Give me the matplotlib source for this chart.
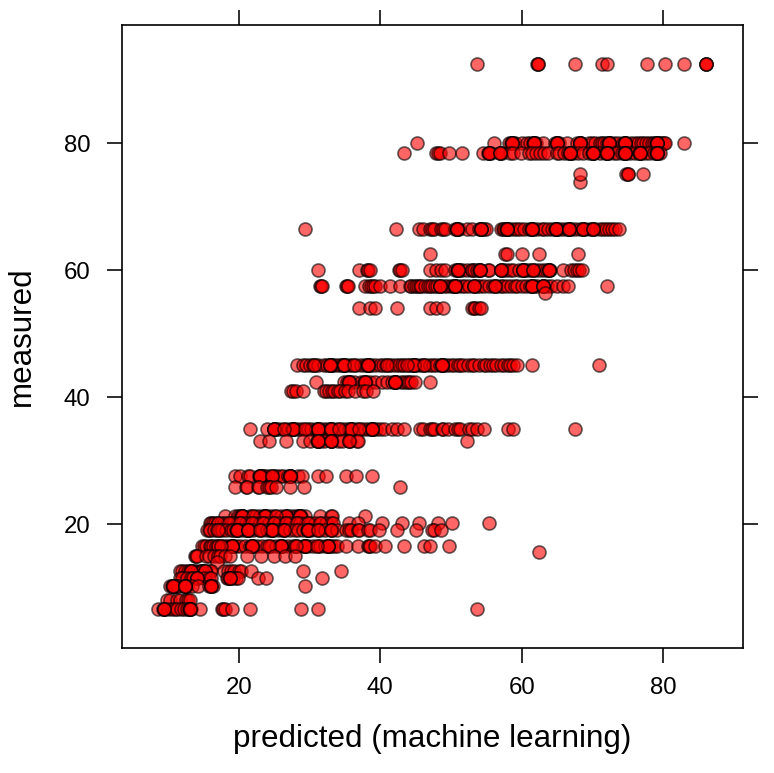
import matplotlib
matplotlib.use("Agg")
import matplotlib.pyplot as plt

plt.rcParams['font.family'] = ['Liberation Sans', 'DejaVu Sans']

# predicted values, one list per measured level
m925 = [53.6, 62.2, 62.3, 62.3, 67.5, 71.3, 72.1, 77.7, 80.2, 82.9, 86, 86, 86.1]
m80 = [45.2, 56.1, 58.2, 58.5, 58.7, 59, 60, 60.8, 61.2, 61.6, 61.8, 62, 63, 64.7, 65, 65.2, 66.4, 67.8,
       68.2, 68.4, 69.5, 70, 70.4, 71, 71.3, 71.6, 72, 72.3, 72.5, 73, 73.6, 74.3, 74.6, 74.8, 75.5, 76,
       76.4, 76.8, 77.2, 77.6, 78, 78.4, 78.7, 79, 79.3, 79.6, 79.9, 80.1, 80.3, 83]
m785 = [43.4, 47.8, 48.1, 48.4, 49.7, 51.6, 54.5, 55.2, 55.4, 55.6, 56.9, 57.2, 58.4, 58.7, 59.9, 61, 61.4,
        62, 62.6, 63.2, 63.7, 65, 65.3, 66, 66.5, 66.9, 67.3, 67.9, 68.6, 69.5, 69.9, 70.2, 71, 71.8, 72.1,
        72.4, 73, 73.5, 74.2, 74.5, 74.8, 75.3, 76, 76.6, 76.8, 77.5, 78, 78.7, 79, 79.3, 79.6]
m75 = [74.8, 75, 75.1, 77.2]
m738 = [68.2]
m752 = [68.2]
m665 = [29.3, 42.2, 45.4, 46.1, 47, 47.3, 47.6, 48.6, 48.9, 49.2, 50.5, 50.8, 51.1, 52.2, 52.9, 54, 54.3, 54.6, 55,
        57, 57.3, 57.5, 57.8, 58, 58.4, 58.9, 59.3, 59.8, 60.3, 61, 61.3, 61.6, 62.2, 62.8, 63.1, 63.7, 64.3,
        64.7, 65, 65.2, 65.9, 66.4, 66.7, 66.9, 67.6, 68.3, 68.7, 69, 69.6, 70, 70.3, 71, 71.5, 71.9, 72.3, 72.8, 73.2, 73.7]
m625 = [47, 57.7, 57.9, 60.1, 62.4, 68]
m60 = [31.2, 37, 38.1, 38.3, 38.6, 42.6, 42.8, 43.1, 47, 47.8, 48.6, 49.2, 50.6, 50.9, 51.2, 51.5, 52.3, 52.9, 53,
       53.2, 53.6, 54, 55.2, 55.4, 57, 57.4, 57.8, 58.3, 58.7, 59.6, 60.2, 60.5, 60.9, 61.3, 62, 62.6, 63.2, 63.6,
       64, 65.9, 67, 67.4, 67.8, 68.1, 68.5]
m575 = [31.5, 31.6, 31.7, 35.2, 35.3, 35.4, 37.8, 38.4, 38.7, 38.9, 39.3, 40, 41.4, 42.8, 44.2, 44.4, 44.7, 45, 45.3,
        45.6, 45.8, 46.3, 46.8, 47, 47.3, 47.7, 48, 48.4, 49, 49.4, 50, 50.3, 50.6, 51, 51.5, 52, 52.6, 53.2, 53.6,
        54.1, 54.7, 55.4, 56, 56.5, 57, 57.4, 57.9, 58.5, 59, 59.3, 60, 60.6, 61.2, 61.7, 62.2, 63, 63.6, 64.2, 65, 65.8,
        66.6, 72]
m565 = [63.3]
m54 = [37, 38.5, 39.2, 42.3, 47, 47.9, 48.9, 53, 53.2, 53.4, 53.9, 54.3]
m45 = [28.2, 29, 29.5, 30, 30.4, 30.8, 31.2, 32, 32.5, 33, 33.2, 33.5, 34, 34.4, 34.7, 35, 35.5, 36, 36.5, 37.2, 37.8, 38.1,
       38.4, 38.7, 39.2, 39.9, 40.4, 40.8, 41.2, 41.7, 42.2, 42.6, 43, 43.3, 44, 44.4, 44.8, 45.2, 45.7, 46, 46.5, 47,
       47.4, 47.9, 48.4, 48.7, 49, 49.4, 50, 50.4, 51, 51.3, 51.7, 52.4, 52.9, 53.2, 53.9, 54.6, 55, 55.5, 56, 56.4, 57,
       57.5, 58, 58.3, 58.8, 59.3, 61.4, 70.9]
m423 = [30.9, 34.8, 35.3, 35.5, 35.7, 36.2, 37.3, 37.7, 37.9, 38.5, 39.2, 40.2, 40.9, 41.7, 42, 42.2, 42.9, 43.3, 43.7, 44,
        44.4, 44.9, 47]
m41 = [27.4, 27.7, 28, 29.1, 32, 32.3, 32.8, 33.1, 33.5, 34, 34.3, 35, 35.4, 36.4, 37.6, 38, 39]
m35 = [21.6, 23.9, 25, 25.3, 25.6, 26.3, 27, 27.5, 27.7, 27.9, 28.5, 29.1, 29.7, 30.2, 30.9, 31.2, 31.4, 32, 32.6, 33, 33.2,
       33.8, 34.4, 35, 35.6, 35.9, 36.1, 36.7, 37.3, 37.8, 38.4, 38.8, 39, 39.4, 40, 40.5, 41.6, 42.3, 43.3, 45.6, 46.1,
       47, 47.3, 47.6, 48.7, 48.9, 49.6, 50.6, 51, 51.2, 52.5, 52.9, 53.6, 54.6, 58.1, 58.8, 67.5]
m33 = [23, 24.2, 26.7, 29.1, 30, 31, 31.2, 31.4, 32, 33, 33.2, 34, 34.6, 35.5, 35.7, 36.7, 36.9, 52.2]
m275 = [19.4, 20.1, 21.3, 21.6, 22.8, 23, 23.2, 23.4, 23.7, 24.3, 24.9, 25.3, 25.8, 26.2, 26.9, 27.2, 27.4, 28.3, 28.9,
        31.2, 32.3, 35.2, 36.5, 38.8]
m258 = [19.4, 21, 21.2, 22.7, 22.9, 24, 24.2, 24.5, 25.3, 27.2, 29.2, 42.8]
m212 = [18, 19.4, 19.9, 20.2, 20.4, 20.6, 21.5, 21.8, 22.4, 23, 23.5, 23.7, 23.9, 24.5, 25.1, 26, 26.7, 26.9, 27.5,
        28, 28.4, 28.6, 28.8, 29.4, 31.5, 33, 33.2, 37.8]
m202 = [15.9, 16.1, 16.3, 16.6, 17, 17.4, 17.9, 18.3, 18.8, 19.2, 19.9, 20.4, 21, 21.6, 22.3, 23, 23.6, 24.3, 25, 25.7, 26.5,
        27.2, 28, 28.7, 29.5, 30, 30.8, 31.6, 32.3, 33, 33.3, 35.5, 36.9, 40.2, 43.1, 45.5, 48.2, 50.2, 55.4]
m19 = [15.5, 15.7, 15.9, 16.5, 16.9, 17.3, 17.6, 18.2, 18.8, 19.2, 19.6, 19.8, 20.4, 21, 21.2, 21.4, 22, 22.8, 23.2, 23.9, 24.4,
       24.6, 24.8, 25.5, 26.1, 26.3, 26.5, 27.2, 27.9, 28.3, 29, 29.6, 29.8, 30.2, 31, 31.5, 32.2, 33, 33.2, 33.8, 35.2,
       35.5, 35.8, 36.8, 37, 38.3, 38.5, 39.8, 42.3, 45.1, 47.3, 47.6, 48.6]
m165 = [14.8, 15, 15.4, 15.9, 16.1, 16.3, 16.8, 17, 17.4, 17.9, 18.3, 18.7, 19, 19.2, 19.6, 20.2, 20.8, 21.5, 21.8, 22,
        22.6, 23.2, 23.9, 24.5, 25.3, 25.8, 26, 26.2, 26.9, 27.6, 27.9, 28.2, 29, 29.4, 29.7, 30.5, 31.2, 31.4, 32.1,
        32.7, 33, 33.4, 33.8, 35.2, 36.9, 38.2, 38.4, 38.6, 39.2, 40.7, 43.4, 46.2, 47, 49.7]
m156 = [62.4]
m15 = [13.8, 13.9, 14, 15.4, 15.8, 16.4, 17, 17.3, 18, 18.7, 21.2, 23.1, 25, 26.5, 27.9]
m14 = [16.9]
m126 = [11.7, 11.9, 12.3, 12.8, 13, 13.4, 13.6, 14.1, 14.6, 14.8, 15.4, 15.9, 16.1, 17.9, 18.5, 18.9, 19.3, 20, 20.3, 21.7,
        29.1, 34.4]
m115 = [11.6, 12, 12.6, 13.2, 13.5, 14, 15, 15.8, 16.1, 18.3, 18.5, 18.7, 19.1, 19.6, 19.9, 22.7, 23.8, 31.7]
m103 = [10.3, 10.5, 10.7, 10.9, 11.1, 11.4, 12.2, 12.4, 12.6, 13.4, 14.2, 15.8, 16.1, 16.3, 29.3]
m8 = [9.8, 10.2, 11.2, 11.7, 12.5, 12.8, 13]
m66 = [8.6, 9.3, 9.4, 9.9, 10.5, 11, 11.2, 11.8, 12.2, 12.7, 12.9, 13, 13.2, 14.5, 17.6, 17.8, 18, 19, 21.6, 28.8, 31.2, 53.6]

# spots where several points pile up
m80 += [58.6, 58.6, 58.6, 61.7, 61.7, 61.7, 65, 65, 65, 68.3, 68.3, 68.3, 72.3, 72.3, 72.3, 74.6, 74.6, 74.6, 79.1, 79.1, 79.1]
m785 += [55.4, 55.4, 56.9, 56.9, 66.8, 66.8, 66.8, 70.1, 70.1, 70.1, 72, 72, 72, 74.6, 74.6, 74.6, 76.7, 76.7, 76.7, 79.1, 79.1, 79.1]
m665 += [50.8, 50.8, 50.8, 54.3, 54.3, 54.3, 57.9, 57.9, 57.9, 61.4, 61.4, 61.4, 64.9, 64.9, 64.9, 66.7, 66.7, 66.7, 68.7, 68.7, 70.1, 70.1]
m60 += [51, 51, 51, 54.1, 54.1, 54.1, 57, 57, 60.2, 60.2, 60.2, 61.6, 61.6, 63.8, 63.8, 63.8]
m575 += [48.4, 48.4, 50.6, 50.6, 50.6, 53.2, 53.2, 56.2, 56.2, 61.4, 61.4, 61.4, 63, 63, 63]
m45 += [32.9, 32.9, 32.9, 34.8, 34.8, 34.8, 38.2, 38.2, 38.2, 44.7, 44.7, 44.7, 48.7, 48.7, 48.7, 30.6, 36.2, 41, 43.8, 46.2]
m423 += [35.5, 35.5, 37.8, 37.8, 42, 42, 42]
m35 += [25, 25, 25, 27.7, 27.7, 27.7, 31.2, 31.2, 31.2, 33, 33, 33, 35.9, 35.9, 35.9, 38.8, 38.8, 38.8, 26.4, 29.3, 34.2, 37]
m33 += [31.2, 31.2, 33, 33, 35.5]
m275 += [23, 23, 23, 24.6, 24.6, 27.2, 27.2, 27.2]
m212 += [20.4, 20.4, 20.4, 23.7, 23.7, 23.7, 26.7, 26.7, 28.6, 28.6, 28.6, 22, 25.2]
m202 += [17.1, 18.6, 20.2, 21.8, 23.4, 25, 26.6, 28.2, 29.8, 31.4]
m19 += [19.7, 19.7, 19.7, 21.3, 21.3, 21.3, 24.6, 24.6, 24.6, 29.8, 29.8, 29.8, 17, 23, 26.4, 31.2, 33]
m165 += [19, 19, 19, 21.8, 21.8, 21.8, 26, 26, 26, 29.3, 29.3, 29.3, 32.6, 32.6, 32.6, 17, 17.4, 24.2, 28, 31]
m126 += [14.7, 14.7, 14.7, 13.2, 13.2, 15.2, 15.2]
m115 += [18.7, 18.7, 14, 14]
m103 += [10.7, 10.7, 10.7, 12.4, 12.4, 12.4, 16.1, 16.1]
m66 += [9.4, 9.4, 13, 13]

levels = [92.5, 80, 78.5, 75.2, 73.8, 75.2, 66.5, 62.5, 60, 57.5, 56.4, 54, 45, 42.3, 41, 35, 33, 27.5, 25.8, 21.2, 20.2,
          19, 16.5, 15.6, 15, 14, 12.6, 11.5, 10.3, 8, 6.6]
rows = [m925, m80, m785, m75, m738, m752, m665, m625, m60, m575, m565, m54, m45, m423, m41, m35, m33, m275, m258, m212, m202,
        m19, m165, m156, m15, m14, m126, m115, m103, m8, m66]

xs = []
ys = []
for lev, r in zip(levels, rows):
    xs += r
    ys += [lev] * len(r)

fig = plt.figure(figsize=(7.74, 7.73), dpi=100)
ax = fig.add_axes([122 / 774, 1 - 648 / 773, (743 - 122) / 774, (648 - 25) / 773])
ax.scatter(xs, ys, s=88, facecolor=(1, 0, 0, 0.6), edgecolor=(0, 0, 0, 0.6), linewidth=1.2, clip_on=False)
ax.set_xlim(3.45, 91.3)
ax.set_ylim(0.47, 98.6)
ax.set_xticks([20, 40, 60, 80])
ax.set_yticks([20, 40, 60, 80])
ax.tick_params(axis='both', which='major', direction='out', length=10.6, width=1.15, labelsize=17.3, pad=10.5,
               top=True, right=True, labeltop=False, labelright=False)
ax.tick_params(axis='y', pad=12)
for s in ax.spines.values():
    s.set_linewidth(1.2)
ax.set_xlabel('predicted (machine learning)', fontsize=22.6, labelpad=17.6)
ax.set_ylabel('measured', fontsize=22.6, labelpad=19.5)
fig.savefig('out.png', dpi=100)
